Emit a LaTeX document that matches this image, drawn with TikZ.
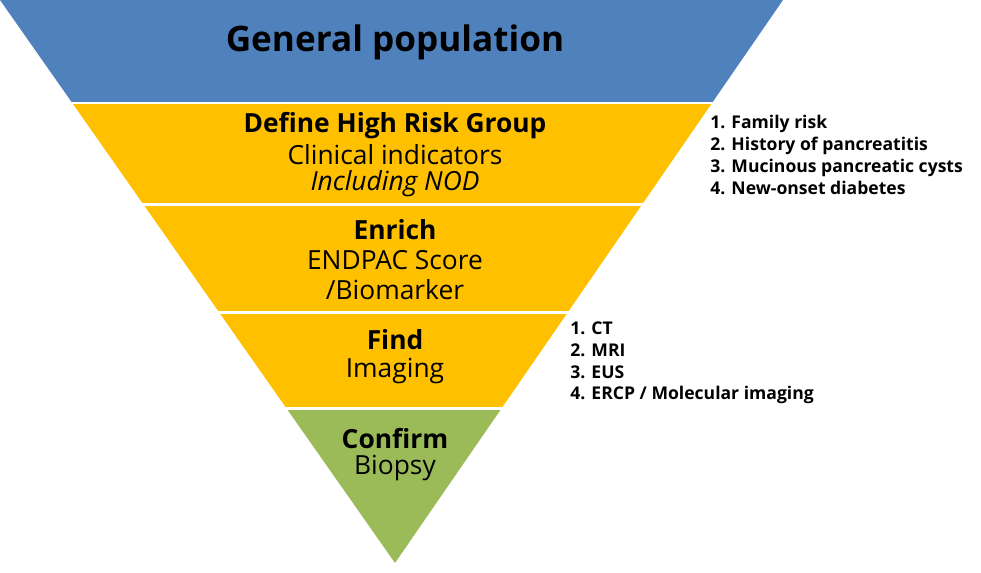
\documentclass[tikz,border=0pt]{standalone}
\usepackage{fontspec}
\setmainfont{Open Sans}
\definecolor{popblue}{HTML}{4F81BD}
\definecolor{stepgold}{HTML}{FFC000}
\definecolor{stepgreen}{HTML}{9BBB59}
\tikzset{
  bandtitle/.style={font=\fontsize{15}{18}\selectfont\bfseries},
  bandtext/.style={font=\fontsize{15}{18}\selectfont},
  listtext/.style={font=\fontsize{10}{12.4}\selectfont\bfseries, anchor=west, align=left, inner sep=0pt}
}
\begin{document}
\begin{tikzpicture}[x=0.02cm,y=-0.02cm]
			\useasboundingbox (0,0) rectangle (981,573);
			\begin{scope}
				\clip (0,0) -- (783,0) -- (395,563) -- cycle;
				\fill[popblue]   (0,0)   rectangle (981,102);
				\fill[stepgold]  (0,104) rectangle (981,203);
				\fill[stepgold]  (0,206) rectangle (981,311);
				\fill[stepgold]  (0,314) rectangle (981,407);
				\fill[stepgreen] (0,410) rectangle (981,573);
			\end{scope}
			\node (pop) at (395,42) [font=\fontsize{20}{24}\selectfont\bfseries] {General population};
			\node (risk) at (395,126) [bandtitle] {Define High Risk Group};
			\node (clin) at (395,155) [bandtext] {Clinical indicators};
			\node (nod) at (395,184) [font=\fontsize{15}{18}\selectfont\itshape] {Including NOD};
			\node (enrich) at (395,230) [bandtitle] {Enrich};
			\node (score) at (395,260) [bandtext] {ENDPAC Score};
			\node (bio) at (395,290) [bandtext] {/Biomarker};
			\node (find) at (395,340) [bandtitle] {Find};
			\node (img) at (395,371) [bandtext] {Imaging};
			\node (conf) at (395,439) [bandtitle] {Confirm};
			\node (biopsy) at (395,468) [bandtext] {Biopsy};
			\node (risklist) at (710,155) [listtext] {1. Family risk\\2. History of pancreatitis\\3. Mucinous pancreatic cysts\\4. New-onset diabetes};
			\node (imglist) at (570,363) [listtext] {1. CT\\2. MRI\\3. EUS\\4. ERCP / Molecular imaging};
		\end{tikzpicture}
\end{document}
